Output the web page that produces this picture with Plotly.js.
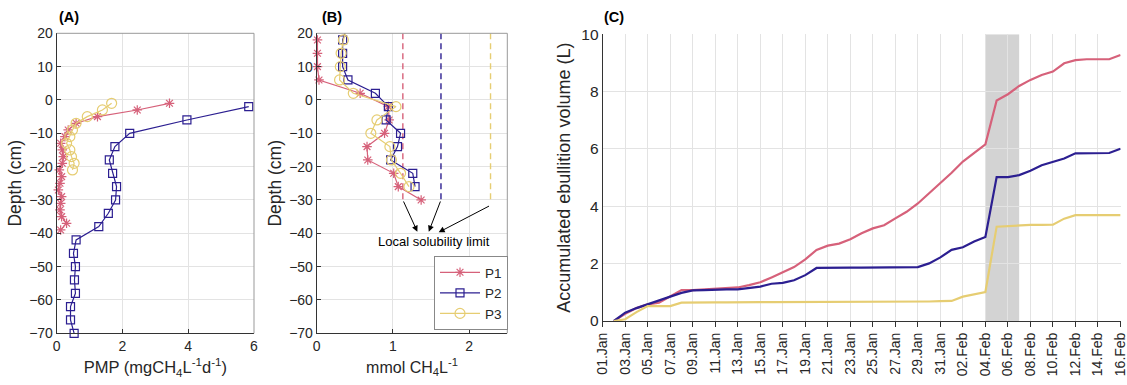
<!DOCTYPE html>
<html>
<head>
<meta charset="utf-8">
<script src="https://cdn.plot.ly/plotly-3.0.1.min.js"></script>
<style>html,body{margin:0;padding:0;background:#fff;}#chart{width:1127px;height:385px;}</style>
</head>
<body>
<div id="chart"></div>
<script>
// ---------- Panel A: PMP profiles ----------
const depthA_P1 = [-1,-3,-5,-7,-9,-11,-13,-15,-17,-19,-21,-23,-25,-27,-29,-31,-33,-35,-37,-39];
const pmpA_P1   = [3.43,2.45,1.24,0.59,0.35,0.25,0.12,0.17,0.20,0.17,0.08,0.15,0.10,0.05,0.15,0.12,0.10,0.15,0.30,0.12];
const depthA_P2 = [-2,-6,-10,-14,-18,-22,-26,-30,-34,-38,-42,-46,-50,-54,-58,-62,-66,-70];
const pmpA_P2   = [5.84,3.96,2.22,1.77,1.60,1.70,1.82,1.79,1.57,1.28,0.59,0.51,0.57,0.54,0.57,0.42,0.42,0.53];
const depthA_P3 = [-1,-3,-5,-7,-9,-11,-13,-15,-17,-19,-21];
const pmpA_P3   = [1.67,1.39,0.93,0.59,0.48,0.40,0.30,0.40,0.45,0.53,0.48];

// ---------- Panel B: CH4 concentration profiles ----------
const depthB_P1 = [18,14,10,6,2,-2,-6,-10,-14,-18,-22,-26,-30];
const concB_P1  = [0.01,0.01,0.01,0.03,0.57,0.94,0.95,0.89,0.66,0.67,1.01,1.07,1.37];
const depthB_P2 = [22,18,14,10,6,2,-2,-6,-10,-14,-18,-22,-26];
const concB_P2  = [0.40,0.34,0.34,0.34,0.41,0.77,0.94,0.91,1.10,1.06,0.97,1.26,1.29];
const depthB_P3 = [22,18,14,10,6,2,-2,-6,-10,-14,-18,-22,-26];
const concB_P3  = [0.40,0.35,0.32,0.31,0.30,0.48,1.04,0.79,0.71,0.96,0.98,1.10,1.21];
const solubility = [1.13,1.63,2.28];      // P1, P2, P3 local solubility limit
const solDepthTop = 20, solDepthBottom = -30;
const solLabel = "Local solubility limit";

// ---------- Panel C: accumulated ebullition ----------
const dates = ["2019-01-02","2019-01-03","2019-01-04","2019-01-05","2019-01-06","2019-01-07","2019-01-08","2019-01-09",
  "2019-01-10","2019-01-11","2019-01-12","2019-01-13","2019-01-14","2019-01-15","2019-01-16","2019-01-17","2019-01-18",
  "2019-01-19","2019-01-20","2019-01-21","2019-01-22","2019-01-23","2019-01-24","2019-01-25","2019-01-26","2019-01-27",
  "2019-01-28","2019-01-29","2019-01-30","2019-01-31","2019-02-01","2019-02-02","2019-02-03","2019-02-04","2019-02-05",
  "2019-02-06","2019-02-07","2019-02-08","2019-02-09","2019-02-10","2019-02-11","2019-02-12","2019-02-13","2019-02-14",
  "2019-02-15","2019-02-16"];
const ebuP1 = [0,0.25,0.45,0.58,0.64,0.85,1.08,1.08,1.10,1.12,1.14,1.17,1.25,1.35,1.52,1.70,1.88,2.15,2.48,2.63,
  2.70,2.85,3.06,3.23,3.34,3.58,3.81,4.10,4.45,4.83,5.17,5.56,5.87,6.16,7.69,7.91,8.20,8.41,8.58,8.70,8.99,9.10,9.13,9.13,9.13,9.28];
const ebuP2 = [0,0.29,0.45,0.59,0.73,0.85,0.98,1.07,1.08,1.10,1.10,1.10,1.15,1.20,1.30,1.33,1.42,1.60,1.85,1.86,
  1.86,1.86,1.86,1.86,1.86,1.86,1.86,1.88,2.01,2.22,2.48,2.57,2.77,2.93,5.02,5.02,5.09,5.24,5.43,5.56,5.67,5.85,5.86,5.86,5.86,6.01];
const ebuP3 = [0,0.06,0.31,0.52,0.52,0.52,0.64,0.65,0.65,0.65,0.65,0.66,0.66,0.66,0.66,0.66,0.67,0.67,0.68,0.68,
  0.68,0.68,0.68,0.68,0.68,0.68,0.68,0.68,0.68,0.69,0.70,0.85,0.94,1.01,3.29,3.31,3.35,3.35,3.35,3.36,3.57,3.69,3.69,3.69,3.69,3.69];
const shadeStart = "2019-02-04", shadeEnd = "2019-02-07";

const names = ["P1","P2","P3"];
const colors = ["#d6617a","#2c1f91","#e6cd72"];
const symbols = ["asterisk-open","square-open","circle-open"];
const sizes = [8,8,10];

const traces = [];
// Panel A
[[pmpA_P1,depthA_P1],[pmpA_P2,depthA_P2],[pmpA_P3,depthA_P3]].forEach((d,i)=>{
  traces.push({x:d[0], y:d[1], xaxis:'x', yaxis:'y', type:'scatter', mode:'lines+markers', showlegend:false, cliponaxis:false,
    line:{color:colors[i], width:1.2}, marker:{symbol:symbols[i], size:sizes[i], color:colors[i], line:{color:colors[i], width:1.2}}});
});
// Panel B dashed solubility lines
solubility.forEach((s,i)=>{
  traces.push({x:[s,s], y:[solDepthTop,solDepthBottom], xaxis:'x2', yaxis:'y2', type:'scatter', mode:'lines', showlegend:false,
    line:{color:colors[i], width:1.4, dash:'6px,4px'}});
});
// Panel B profiles
[[concB_P1,depthB_P1],[concB_P2,depthB_P2],[concB_P3,depthB_P3]].forEach((d,i)=>{
  traces.push({x:d[0], y:d[1], name:names[i], xaxis:'x2', yaxis:'y2', type:'scatter', mode:'lines+markers', showlegend:true,
    cliponaxis: i===0 ? false : true,
    line:{color:colors[i], width:1.2}, marker:{symbol:symbols[i], size:sizes[i], color:colors[i], line:{color:colors[i], width:1.2}}});
});
// Panel C
[ebuP1,ebuP2,ebuP3].forEach((d,i)=>{
  traces.push({x:dates, y:d, xaxis:'x3', yaxis:'y3', type:'scatter', mode:'lines', showlegend:false,
    line:{color:colors[i], width:2.2}});
});

const W=1127, H=385;
const fx = v=>v/W, fy = v=>1-v/H;
const fontFam = 'Liberation Sans, Arial, Helvetica, sans-serif';
const axDark = '#333333';
const gridC = '#e3e3e3';

const baseAx = {showline:true, linecolor:axDark, linewidth:1, ticks:'inside', ticklen:4, tickcolor:axDark,
  showgrid:true, gridcolor:gridC, zeroline:false, tickfont:{size:14, color:'#262626', family:fontFam}};

const layout = {
  width:W, height:H, margin:{l:0,r:0,t:0,b:0}, paper_bgcolor:'#fff', plot_bgcolor:'#fff',
  font:{family:fontFam, color:'#262626'},
  xaxis: Object.assign({}, baseAx, {domain:[fx(56.7),fx(254)], range:[0,6], dtick:2, anchor:'y',
    title:{text:'PMP (mgCH<sub>4</sub>L<sup>-1</sup>d<sup>-1</sup>)', font:{size:16.5}, standoff:8}}),
  yaxis: Object.assign({}, baseAx, {domain:[fy(333.3),fy(33.3)], range:[-70,20], dtick:10, anchor:'x',
    title:{text:'Depth (cm)', font:{size:17.5}, standoff:3}}),
  xaxis2: Object.assign({}, baseAx, {domain:[fx(316.7),fx(507.3)], range:[0,2.5], tickvals:[0,1,2], anchor:'y2',
    title:{text:'mmol CH<sub>4</sub>L<sup>-1</sup>', font:{size:16}, standoff:8}}),
  yaxis2: Object.assign({}, baseAx, {domain:[fy(333.3),fy(33.3)], range:[-70,20], dtick:10, anchor:'x2',
    title:{text:'Depth (cm)', font:{size:17.5}, standoff:3}}),
  xaxis3: Object.assign({}, baseAx, {domain:[fx(602.7),fx(1120.7)], type:'date', range:['2019-01-01','2019-02-16 00:30'],
    tick0:'2019-01-01', dtick:172800000, tickformat:'%d.%b', tickangle:-90, ticks:'outside', ticklen:5,
    ticklabeloverflow:'allow',
    tickfont:{size:14, color:'#262626', family:fontFam}, anchor:'y3'}),
  yaxis3: Object.assign({}, baseAx, {domain:[fy(321),fy(34.3)], range:[0,10], dtick:2, anchor:'x3', ticks:'',
    tickfont:{size:15.5, color:'#262626', family:fontFam},
    title:{text:'Accumulated ebullition volume (L)', font:{size:18}, standoff:6}}),
  showlegend:true,
  legend:{x:fx(508), xanchor:'right', y:fy(330), yanchor:'bottom', bgcolor:'#fff', bordercolor:'#888', borderwidth:1,
    font:{size:13.5, family:fontFam}, itemwidth:40, tracegroupgap:0},
  shapes:[
    {type:'rect', xref:'x3', yref:'y3', x0:shadeStart, x1:shadeEnd, y0:0, y1:10, fillcolor:'#d3d3d3', line:{width:0}, layer:'below'},
    {type:'line', xref:'x domain', yref:'y domain', x0:0, x1:1, y0:1, y1:1, line:{color:'#999', width:1}},
    {type:'line', xref:'x domain', yref:'y domain', x0:1, x1:1, y0:0, y1:1, line:{color:'#999', width:1}},
    {type:'line', xref:'x2 domain', yref:'y2 domain', x0:0, x1:1, y0:1, y1:1, line:{color:'#999', width:1}},
    {type:'line', xref:'x2 domain', yref:'y2 domain', x0:1, x1:1, y0:0, y1:1, line:{color:'#999', width:1}}
  ],
  annotations:[
    {xref:'paper', yref:'paper', x:fx(57), y:fy(17), xanchor:'left', yanchor:'middle', text:'<b>(A)</b>', showarrow:false, font:{size:14.5, color:'#000'}},
    {xref:'paper', yref:'paper', x:fx(320), y:fy(17), xanchor:'left', yanchor:'middle', text:'<b>(B)</b>', showarrow:false, font:{size:14.5, color:'#000'}},
    {xref:'paper', yref:'paper', x:fx(602), y:fy(17), xanchor:'left', yanchor:'middle', text:'<b>(C)</b>', showarrow:false, font:{size:14.5, color:'#000'}},
    {xref:'x2', yref:'y2', x:1.54, y:-42.5, text:solLabel, showarrow:false, font:{size:13, color:'#000'}},
    {xref:'x2', yref:'y2', axref:'x2', ayref:'y2', x:1.32, y:-39.5, ax:solubility[0], ay:solDepthBottom, text:'', showarrow:true, arrowhead:2, arrowsize:1.2, arrowwidth:1, arrowcolor:'#000'},
    {xref:'x2', yref:'y2', axref:'x2', ayref:'y2', x:1.47, y:-39.5, ax:solubility[1], ay:solDepthBottom, text:'', showarrow:true, arrowhead:2, arrowsize:1.2, arrowwidth:1, arrowcolor:'#000'},
    {xref:'x2', yref:'y2', axref:'x2', ayref:'y2', x:1.60, y:-39.7, ax:solubility[2], ay:-31.6, text:'', showarrow:true, arrowhead:2, arrowsize:1.2, arrowwidth:1, arrowcolor:'#000'}
  ]
};

Plotly.newPlot('chart', traces, layout, {displayModeBar:false, staticPlot:true});
</script>
</body>
</html>
